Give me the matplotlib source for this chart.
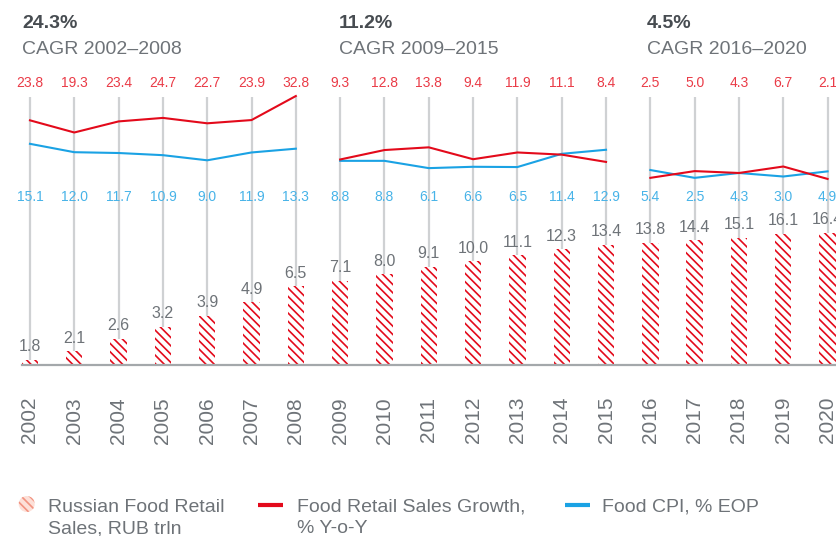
import matplotlib
matplotlib.use('Agg')
import matplotlib.pyplot as plt
from matplotlib.patches import Circle

plt.rcParams['font.family'] = ['Liberation Sans', 'DejaVu Sans']
plt.rcParams['hatch.linewidth'] = 1.2

years = list(range(2002, 2021))
sales = [1.8, 2.1, 2.6, 3.2, 3.9, 4.9, 6.5,
         7.1, 8.0, 9.1, 10.0, 11.1, 12.3, 13.4,
         13.8, 14.4, 15.1, 16.1, 16.4]
growth = [23.8, 19.3, 23.4, 24.7, 22.7, 23.9, 32.8,
          9.3, 12.8, 13.8, 9.4, 11.9, 11.1, 8.4,
          2.5, 5.0, 4.3, 6.7, 2.1]
cpi = [15.1, 12.0, 11.7, 10.9, 9.0, 11.9, 13.3,
       8.8, 8.8, 6.1, 6.6, 6.5, 11.4, 12.9,
       5.4, 2.5, 4.3, 3.0, 4.9]
periods = [(2002, 2008), (2009, 2015), (2016, 2020)]
cagr = ['24.3%', '11.2%', '4.5%']

RED = '#e30a1b'
RED_TXT = '#ea3b47'
BLUE = '#1aa2e4'
BLUE_TXT = '#47b3e8'
GREY_TXT = '#6e7378'
DARK = '#474c51'

fig = plt.figure(figsize=(8.36, 5.36), dpi=100)

# pixel-space overlay for titles and legend
lax = fig.add_axes([0, 0, 1, 1])
lax.set_xlim(0, 836)
lax.set_ylim(536, 0)
lax.axis('off')

ax = fig.add_axes([22 / 836, 1 - 365 / 536, 1 - 22 / 836, 268 / 536])
ax.patch.set_alpha(0)
ax.set_yscale('log')

ax.vlines(years, sales, 174, color='#cfd1d3', lw=1.6, zorder=0)
ax.bar(years, sales, width=0.37, color='white',
       edgecolor=RED, linewidth=0, hatch='\\\\\\\\', zorder=2)
ax.set_ylim(1.65, 174)
ax.set_xlim(2001.82, 2020.19)
for yr, v in zip(years, sales):
    ax.annotate(f'{v:.1f}', (yr, v), xytext=(0, 4), textcoords='offset points',
                ha='center', va='bottom', fontsize=11.5, color=GREY_TXT)

# growth / CPI lines
lx = ax.twinx()
lx.set_ylim(-66.8, 32.44)
lx.set_yticks([])
for s in lx.spines.values():
    s.set_visible(False)
for a, b in periods:
    idx = [i for i, y in enumerate(years) if a <= y <= b]
    lx.plot([years[i] for i in idx], [cpi[i] for i in idx], color=BLUE, lw=1.5, clip_on=False)
    lx.plot([years[i] for i in idx], [growth[i] for i in idx], color=RED, lw=1.5, clip_on=False)

for s in ['top', 'left', 'right']:
    ax.spines[s].set_visible(False)
ax.spines['bottom'].set_color('#a4a8ab')
ax.spines['bottom'].set_linewidth(1.6)
ax.tick_params(axis='y', which='both', left=False, right=False,
               labelleft=False, labelright=False)
ax.set_xticks(years)
ax.set_xticklabels([str(y) for y in years], rotation=90, fontsize=15, color=GREY_TXT)
ax.tick_params(axis='x', length=0, pad=23)

tr = ax.get_xaxis_transform()
for yr, g, c in zip(years, growth, cpi):
    ax.text(yr, 1.052, f'{g:.1f}', transform=tr, ha='center', va='center',
            fontsize=10, color=RED_TXT, clip_on=False)
    ax.text(yr, 0.626, f'{c:.1f}', transform=tr, ha='center', va='center',
            fontsize=10, color=BLUE_TXT)

# period headers
header_x = [22, 339, 647]
for (a, b), c, xp in zip(periods, cagr, header_x):
    lax.text(xp, 24, c, fontsize=14, fontweight='bold', color=DARK, va='center', ha='left')
    lax.text(xp, 50, f'CAGR {a}\u2013{b}', fontsize=14, color=GREY_TXT, va='center', ha='left')

# legend
lax.add_patch(Circle((26.7, 504), 8, facecolor='#fde0d8', edgecolor='#f29380',
                     hatch='\\\\\\\\', lw=0))
lax.plot([258, 283], [505, 505], color=RED, lw=3, solid_capstyle='butt')
lax.plot([565, 590], [505, 505], color=BLUE, lw=3, solid_capstyle='butt')
lax.text(48, 512, 'Russian Food Retail', fontsize=14, color=GREY_TXT, va='baseline')
lax.text(48, 533, 'Sales, RUB trln', fontsize=14, color=GREY_TXT, va='baseline')
lax.text(297, 512, 'Food Retail Sales Growth,', fontsize=14, color=GREY_TXT, va='baseline')
lax.text(297, 533, '% Y-o-Y', fontsize=14, color=GREY_TXT, va='baseline')
lax.text(602, 512, 'Food CPI, % EOP', fontsize=14, color=GREY_TXT, va='baseline')

fig.savefig('out.png', dpi=100)
